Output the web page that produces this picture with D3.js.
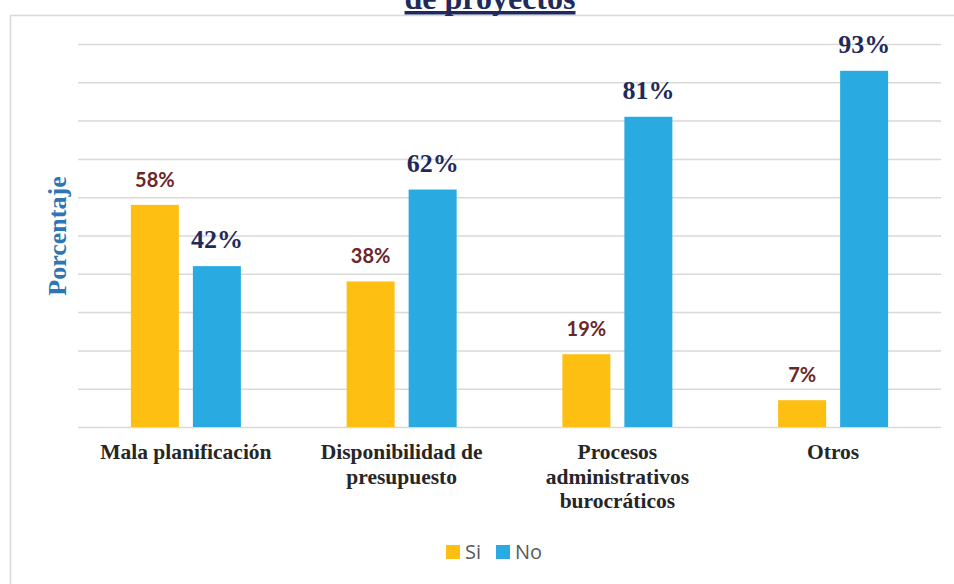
<!DOCTYPE html>
<html>
<head>
<meta charset="utf-8">
<script src="https://cdn.jsdelivr.net/npm/d3@7"></script>
<style>
  body { margin: 0; background: #fff; }
  svg { display: block; }
</style>
</head>
<body>
<div class="chart"></div>
<script>
// data
const categories = [
  ["Mala planificación"],
  ["Disponibilidad de", "presupuesto"],
  ["Procesos", "administrativos", "burocráticos"],
  ["Otros"]
];
const siValues = [0.58, 0.38, 0.19, 0.07];
const noValues = [0.42, 0.62, 0.81, 0.93];
const seriesNames = ["Si", "No"];
const yTicks = [0, 0.1, 0.2, 0.3, 0.4, 0.5, 0.6, 0.7, 0.8, 0.9, 1];

const W = 954, H = 584;
const margin = { top: 44, right: 13, bottom: 157, left: 78 };
const width = W - margin.left - margin.right;
const height = H - margin.top - margin.bottom;

const colors = { Si: "#FDBF12", No: "#29ABE2" };
const serif = "'Liberation Serif', 'Times New Roman', serif";

const svg = d3.select(".chart")
  .append("svg")
  .attr("width", W)
  .attr("height", H);

// chart frame (runs off the right and bottom of the picture)
svg.append("rect")
  .attr("x", 10.5).attr("y", 15.5)
  .attr("width", 1000).attr("height", 1000)
  .attr("fill", "none")
  .attr("stroke", "#d9d9d9")
  .attr("stroke-width", 1.5);

// title, clipped at the top like the original
const title = svg.append("text")
  .attr("x", 490).attr("y", 9)
  .attr("text-anchor", "middle")
  .style("font-family", serif)
  .style("font-weight", "bold")
  .style("font-size", "32px")
  .attr("fill", "#1F2A5C")
  .text("de proyectos");
const tb = title.node().getBBox();
svg.append("rect")
  .attr("x", tb.x).attr("y", 11)
  .attr("width", tb.width).attr("height", 3.5)
  .attr("fill", "#1F2A5C");

const g = svg.append("g")
  .attr("transform", `translate(${margin.left}, ${margin.top})`);

const x = d3.scaleBand()
  .domain(d3.range(categories.length))
  .range([0, width]);

const y = d3.scaleLinear().domain([0, 1]).range([height, 0]);

// gridlines
g.append("g")
  .call(d3.axisLeft(y).tickValues(yTicks).tickSize(-width).tickFormat(""))
  .call(gr => gr.select(".domain").remove())
  .selectAll("line")
  .attr("stroke", "#d9d9d9")
  .attr("stroke-width", 1.5);

const barW = 48, gap = 14;
const xs = d3.scaleOrdinal().domain(seriesNames)
  .range([-(barW + gap / 2), gap / 2]);

const rows = [];
categories.forEach((c, i) => {
  rows.push({ i: i, s: "Si", v: siValues[i] });
  rows.push({ i: i, s: "No", v: noValues[i] });
});

g.append("g").selectAll("rect")
  .data(rows)
  .enter()
  .append("rect")
  .attr("x", d => x(d.i) + x.bandwidth() / 2 + xs(d.s))
  .attr("y", d => y(d.v))
  .attr("width", barW)
  .attr("height", d => height - y(d.v))
  .attr("fill", d => colors[d.s]);

// value labels: Si in a sans face, No in a serif face
g.append("g").selectAll("text")
  .data(rows)
  .enter()
  .append("text")
  .attr("x", d => x(d.i) + x.bandwidth() / 2 + xs(d.s) + barW / 2)
  .attr("y", d => y(d.v) - 18)
  .attr("text-anchor", "middle")
  .style("font-family", d => d.s === "Si" ? "Lato, 'Open Sans', sans-serif" : serif)
  .style("font-weight", "bold")
  .style("font-size", d => d.s === "Si" ? "20px" : "26px")
  .attr("fill", d => d.s === "Si" ? "#6B2626" : "#1F2A5C")
  .text(d => Math.round(d.v * 100) + "%");

// category labels
const cat = g.append("g").selectAll("text")
  .data(categories)
  .enter()
  .append("text")
  .attr("x", (d, i) => x(i) + x.bandwidth() / 2)
  .attr("y", height + 32)
  .attr("text-anchor", "middle")
  .style("font-family", serif)
  .style("font-weight", "bold")
  .style("font-size", "21.5px")
  .attr("fill", "#262626");
cat.selectAll("tspan")
  .data(d => d)
  .enter()
  .append("tspan")
  .attr("x", function () { return d3.select(this.parentNode).attr("x"); })
  .attr("dy", (d, j) => j === 0 ? 0 : 24.5)
  .text(d => d);

// y axis title
svg.append("text")
  .attr("transform", "translate(66, 236) rotate(-90)")
  .attr("text-anchor", "middle")
  .style("font-family", serif)
  .style("font-weight", "bold")
  .style("font-size", "26px")
  .attr("fill", "#2E75B6")
  .text("Porcentaje");

// legend
const legend = svg.append("g").attr("transform", "translate(446, 545)");
const lx = [0, 50];
seriesNames.forEach((s, i) => {
  legend.append("rect")
    .attr("x", lx[i]).attr("y", 0)
    .attr("width", 14).attr("height", 14)
    .attr("fill", colors[s]);
  legend.append("text")
    .attr("x", lx[i] + 19).attr("y", 14)
    .style("font-family", "'Open Sans', sans-serif")
    .style("font-size", "20px")
    .attr("fill", "#595959")
    .text(s);
});
</script>
</body>
</html>
